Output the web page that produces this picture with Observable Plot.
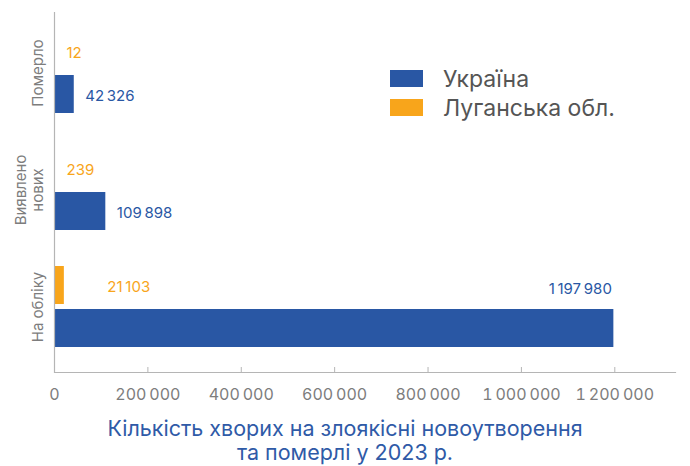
<!DOCTYPE html>
<html>
<head>
<meta charset="utf-8">
<script src="https://cdn.jsdelivr.net/npm/d3@7"></script>
<script src="https://cdn.jsdelivr.net/npm/@observablehq/plot@0.6"></script>
<style>
  body { margin: 0; background: #fff; font-family: Inter, "Open Sans", sans-serif; }
  #wrap { position: relative; width: 690px; height: 466px; overflow: hidden; }
  #legend { position: absolute; left: 390px; top: 64px; }
  .row { display: flex; align-items: center; height: 29px; }
  .sw { width: 33px; height: 17px; margin-right: 20px; }
  .lt { font-size: 23px; color: #555; }
  #title { text-align: center; font-size: 21.5px; line-height: 24px; color: #2f5aa7; margin-top: 6px; }
</style>
</head>
<body>
<div id="wrap">
  <div id="chart"></div>
  <div id="legend"></div>
  <div id="title"></div>
</div>
<script>
const categories = ["Померло", "Виявлено\nнових", "На обліку"];
const ukraine = [42326, 109898, 1197980];
const luhansk = [12, 239, 21103];
const series = ["Україна", "Луганська обл."];
const colors = ["#2957a4", "#f8a51b"];
const xTicks = [0, 200000, 400000, 600000, 800000, 1000000, 1200000];
const titleLines = ["Кількість хворих на злоякісні новоутворення", "та померлі у 2023 р."];

const fmt = d3.formatLocale({decimal: ",", thousands: "\u2009", grouping: [3], currency: ["", ""]}).format(",");

const uaRows = categories.map((c, i) => ({category: c, series: series[0], value: ukraine[i]}));
const lgRows = categories.map((c, i) => ({category: c, series: series[1], value: luhansk[i]}));
const last = categories[categories.length - 1];

const chart = Plot.plot({
  width: 690,
  height: 410,
  marginTop: 12,
  marginBottom: 38,
  marginLeft: 54,
  marginRight: 15,
  style: {fontFamily: "Inter, 'Open Sans', sans-serif", background: "#fff"},
  x: {domain: [0, 1330000], axis: null},
  y: {domain: categories, paddingInner: 0.3077, paddingOuter: 0.1923, align: 0.444, axis: null},
  marks: [
    Plot.barX(lgRows, {x: "value", y: "category", fill: colors[1], insetBottom: 43}),
    Plot.barX(uaRows, {x: "value", y: "category", fill: colors[0], insetTop: 43}),
    Plot.ruleX([0], {stroke: "#b5b5b5", strokeWidth: 1.2}),
    Plot.frame({anchor: "bottom", stroke: "#b5b5b5", strokeWidth: 1.2}),
    Plot.axisX({ticks: xTicks, tickFormat: fmt, tickSize: -5, tickPadding: 21, stroke: "#b5b5b5",
      fill: "#7d7d7d", fontSize: 16, anchor: "bottom", label: null}),
    Plot.text(categories, {y: d => d, frameAnchor: "left", dx: -12, rotate: -90, lineAnchor: "bottom",
      textAnchor: "middle", fill: "#7d7d7d", fontSize: 15, lineHeight: 1.13}),
    Plot.text(lgRows, {filter: d => d.category !== last, x: "value", y: "category", text: d => fmt(d.value),
      dx: 12, dy: -20, textAnchor: "start", fill: colors[1], fontSize: 15}),
    Plot.text(lgRows, {filter: d => d.category === last, x: "value", y: "category", text: d => fmt(d.value),
      dx: 43, dy: -20, textAnchor: "start", fill: colors[1], fontSize: 15}),
    Plot.text(uaRows, {filter: d => d.category !== last, x: "value", y: "category", text: d => fmt(d.value),
      dx: 11, dy: 23, textAnchor: "start", fill: colors[0], fontSize: 15}),
    Plot.text(uaRows, {filter: d => d.category === last, x: "value", y: "category", text: d => fmt(d.value),
      dx: -2, dy: -17.5, textAnchor: "end", fill: colors[0], fontSize: 15})
  ]
});
document.getElementById("chart").appendChild(chart);

const legend = document.getElementById("legend");
series.forEach((s, i) => {
  const row = document.createElement("div");
  row.className = "row";
  const sw = document.createElement("div");
  sw.className = "sw";
  sw.style.background = colors[i];
  const lt = document.createElement("span");
  lt.className = "lt";
  lt.textContent = s;
  row.appendChild(sw);
  row.appendChild(lt);
  legend.appendChild(row);
});

const title = document.getElementById("title");
titleLines.forEach(t => {
  const d = document.createElement("div");
  d.textContent = t;
  title.appendChild(d);
});
</script>
</body>
</html>
